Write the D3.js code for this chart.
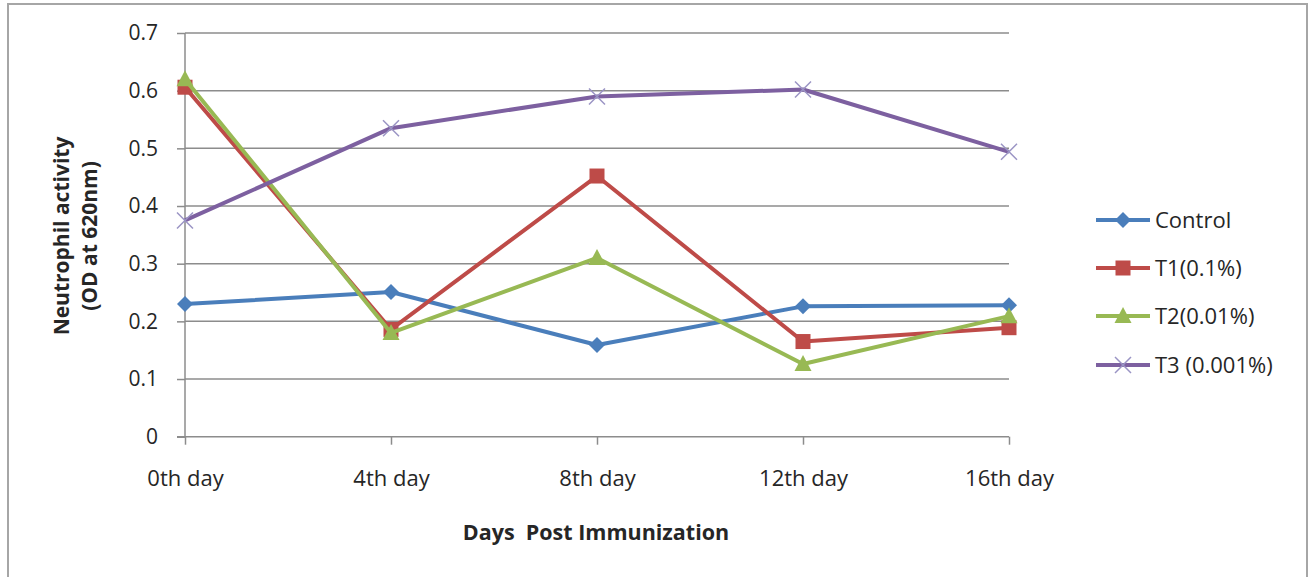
<!DOCTYPE html>
<html><head><meta charset="utf-8">
<script src="https://cdn.jsdelivr.net/npm/d3@7"></script>
<style>body{margin:0;background:#fff}svg{display:block}text{font-family:"Open Sans",Lato,sans-serif;fill:#262626}</style>
</head><body>
<svg id="c" width="1312" height="577"></svg>
<script>
const categories = ["0th day","4th day","8th day","12th day","16th day"];
const yTicks = [0,0.1,0.2,0.3,0.4,0.5,0.6,0.7];
const seriesNames = ["Control","T1(0.1%)","T2(0.01%)","T3 (0.001%)"];
const control = [0.230,0.251,0.159,0.226,0.228];
const t1 = [0.606,0.186,0.452,0.165,0.189];
const t2 = [0.620,0.180,0.310,0.126,0.209];
const t3 = [0.375,0.535,0.590,0.602,0.494];
const seriesValues = [control,t1,t2,t3];
const colors = ["#4A7EBB","#BE4B48","#98B954","#7D60A0"];
const markers = ["diamond","square","triangle","x"];

const svg = d3.select("#c");
svg.append("rect").attr("x",8).attr("y",4).attr("width",1299).attr("height",590)
  .attr("fill","#fff").attr("stroke","#a6a6a6").attr("stroke-width",2);

const x = d3.scalePoint().domain(categories).range([185,1009]);
const y = d3.scaleLinear().domain([0,0.7]).range([436.7,33]);

svg.append("g").selectAll("line").data(yTicks.filter(d=>d>0)).join("line")
  .attr("x1",185).attr("x2",1009).attr("y1",d=>y(d)).attr("y2",d=>y(d))
  .attr("stroke","#8c8c8c").attr("stroke-width",1.5);

const ya = svg.append("g").attr("transform","translate(185,0)")
  .call(d3.axisLeft(y).tickValues(yTicks).tickFormat(d=>d===0?"0":d3.format(".1f")(d)).tickSize(8).tickPadding(19));
ya.select(".domain").attr("stroke","#8c8c8c").attr("stroke-width",1.5).attr("d","M0,33V436.7");
ya.selectAll(".tick line").attr("stroke","#8c8c8c").attr("stroke-width",1.5);
ya.selectAll(".tick text").style("font-size","21px").attr("fill","#262626");

const xa = svg.append("g").attr("transform","translate(0,436.7)")
  .call(d3.axisBottom(x).tickSize(8).tickPadding(26));
xa.select(".domain").attr("stroke","#8c8c8c").attr("stroke-width",1.5).attr("d","M177,0H1009");
xa.selectAll(".tick line").attr("stroke","#8c8c8c").attr("stroke-width",1.5);
xa.selectAll(".tick text").style("font-size","22px").attr("fill","#262626");

function drawMarker(g, type, cx, cy, color){
  if(type==="diamond"){
    g.append("path").attr("d",`M${cx},${cy-8}L${cx+8},${cy}L${cx},${cy+8}L${cx-8},${cy}Z`).attr("fill",color);
  } else if(type==="square"){
    g.append("rect").attr("x",cx-7.5).attr("y",cy-7.5).attr("width",15).attr("height",15).attr("fill",color);
  } else if(type==="triangle"){
    g.append("path").attr("d",`M${cx},${cy-9}L${cx+8.5},${cy+7}L${cx-8.5},${cy+7}Z`).attr("fill",color);
  } else {
    g.append("path").attr("d",`M${cx-8},${cy-8}L${cx+8},${cy+8}M${cx+8},${cy-8}L${cx-8},${cy+8}`)
      .attr("stroke","#9a94c4").attr("stroke-width",1.5).attr("fill","none");
  }
}

const line = d3.line().x((d,i)=>x(categories[i])).y(d=>y(d));
seriesValues.forEach((vals,si)=>{
  const g = svg.append("g");
  g.append("path").datum(vals).attr("d",line).attr("fill","none")
    .attr("stroke",colors[si]).attr("stroke-width",4).attr("stroke-linejoin","round");
  vals.forEach((v,i)=>drawMarker(g,markers[si],x(categories[i]),y(v),colors[si]));
});

const legY = [220,268,316,365];
seriesNames.forEach((n,i)=>{
  const g = svg.append("g");
  g.append("line").attr("x1",1096).attr("x2",1150).attr("y1",legY[i]).attr("y2",legY[i])
    .attr("stroke",colors[i]).attr("stroke-width",4);
  drawMarker(g,markers[i],1123,legY[i],colors[i]);
  g.append("text").attr("x",1155).attr("y",legY[i]).attr("dy","0.35em").style("font-size","22px").text(n);
});

svg.append("text").attr("x",596).attr("y",540).attr("text-anchor","middle")
  .style("font-size","21.5px").style("font-weight","bold").attr("xml:space","preserve").text("Days  Post Immunization");
const yt = svg.append("text").attr("transform","translate(0,236) rotate(-90)").attr("text-anchor","middle")
  .style("font-size","21px").style("font-weight","bold");
yt.append("tspan").attr("x",0).attr("y",69).text("Neutrophil activity");
yt.append("tspan").attr("x",0).attr("y",97).text("(OD at 620nm)");
</script>
</body></html>
